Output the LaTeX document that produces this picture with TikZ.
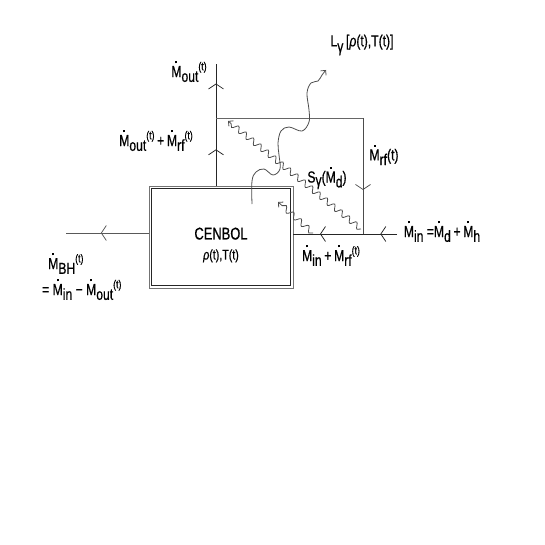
\documentclass[tikz,border=0pt]{standalone}
\usepackage{fontspec}
\setmainfont[FakeStretch=0.76,FakeBold=0.6]{Liberation Sans}
\usetikzlibrary{arrows.meta,decorations.pathmorphing,decorations.markings}
\newcommand\dM{\ooalign{M\cr\hfil\rule[0.86em]{0.13em}{0.13em}\hfil\cr}}
\newcommand\Md[1]{\dM\raisebox{-0.3em}{#1}}
\newcommand\tp{\raisebox{0.42em}{\fontsize{11.5}{11.5}\selectfont(t)}}
\begin{document}
\begin{tikzpicture}[x=1pt,y=-1pt,
  flow/.style={draw=black!85,line width=0.75pt},
  wave/.style={draw=black!70,line width=0.8pt,decorate,
    decoration={snake,amplitude=2.8pt,segment length=9.5pt,post length=3pt}},
  wtip/.style={-{Straight Barb[length=3.5pt,width=7pt]}},
  lbl/.style={font=\fontsize{16}{18}\selectfont,inner sep=0pt},
  cbox/.style={draw=black!55,line width=0.9pt,
    minimum width=144pt,minimum height=102pt,inner sep=0pt}]
\useasboundingbox (0,0) rectangle (545,545);
\tikzset{chevron/.tip={Straight Barb[length=5pt,width=15pt]}}
% box
\node[cbox] (cenbol) at (221,237) {};
\draw[draw=black!85,line width=0.9pt] ([shift={(3,3)}]cenbol.north west) rectangle ([shift={(-3,-3)}]cenbol.south east);
\node[lbl,align=center] (cenboltxt) at (221,245) {\fontsize{17}{17}\selectfont CENBOL\\[2pt]\fontsize{14}{14}\selectfont\textit{ρ}(t),T(t)};
% coordinates
\coordinate (boxtop) at (216,186);
\coordinate (outtop) at (216,64);
\coordinate (tl) at (216,118);
\coordinate (tr) at (363,118);
\coordinate (br) at (363,234);
\coordinate (inend) at (397,234);
\coordinate (boxright) at (293,234);
\coordinate (boxleft) at (149,233);
\coordinate (bhend) at (66,233);
% flows
\draw[flow,postaction={decorate},decoration={markings,
  mark=at position 0.30 with {\arrow{chevron}},
  mark=at position 0.84 with {\arrow{chevron}}}] (boxtop) -- (outtop);
\draw[flow,draw=black!60] (tl) -- (tr);
\draw[flow,draw=black!70,postaction={decorate},decoration={markings,
  mark=at position 0.62 with {\arrow{chevron}}}] (tr) -- (br);
\draw[flow,postaction={decorate},decoration={markings,
  mark=at position 0.16 with {\arrow{chevron}},
  mark=at position 0.74 with {\arrow{chevron}}}] (inend) -- (boxright);
\draw[flow,draw=black!65,postaction={decorate},decoration={markings,
  mark=at position 0.58 with {\arrow{chevron}}}] (boxleft) -- (bhend);
% waves
\coordinate (sgs) at (361,229);
\coordinate (sge) at (228,121);
\coordinate (sws) at (313,233);
\coordinate (swe) at (278,202);
\draw[wave,wtip] (sgs) -- (sge);
\draw[wave,wtip,decoration={segment length=10pt}] (sws) -- (swe);
\draw[draw=black!70,line width=0.8pt,wtip] plot[smooth,tension=0.6] coordinates {
 (252,204) (252,181) (256,172) (264,169) (273,175) (280,169) (279,155)
 (278,143) (281,131) (289,127) (302,131) (309,122) (309,110) (307,93)
 (311,83) (318,81) (322,75) (326,70)};
% labels
\node[lbl] (lout) at (189,72) {\Md{out}\tp};
\node[lbl] (loutrf) at (156,141) {\Md{out}\tp\,+\,\Md{rf}\tp};
\node[lbl] (lgam) at (362,45) {L\raisebox{-0.35em}{γ}\,[\textit{ρ}(t),T(t)]};
\node[lbl] (lrf) at (384,157) {\Md{rf}(t)};
\node[lbl] (lsg) at (327,180) {S\raisebox{-0.2em}{γ}(\Md{d})};
\node[lbl] (linrf) at (331,256) {\Md{in}\,+\,\Md{rf}\tp};
\node[lbl] (lin) at (442,234) {\Md{in} =\Md{d}\,+\,\Md{h}};
\node[lbl,anchor=west] (lbh) at (48,264) {\Md{BH}\tp};
\node[lbl,anchor=west] (lbh2) at (42,290) {= \Md{in} − \Md{out}\tp};
\end{tikzpicture}
\end{document}
